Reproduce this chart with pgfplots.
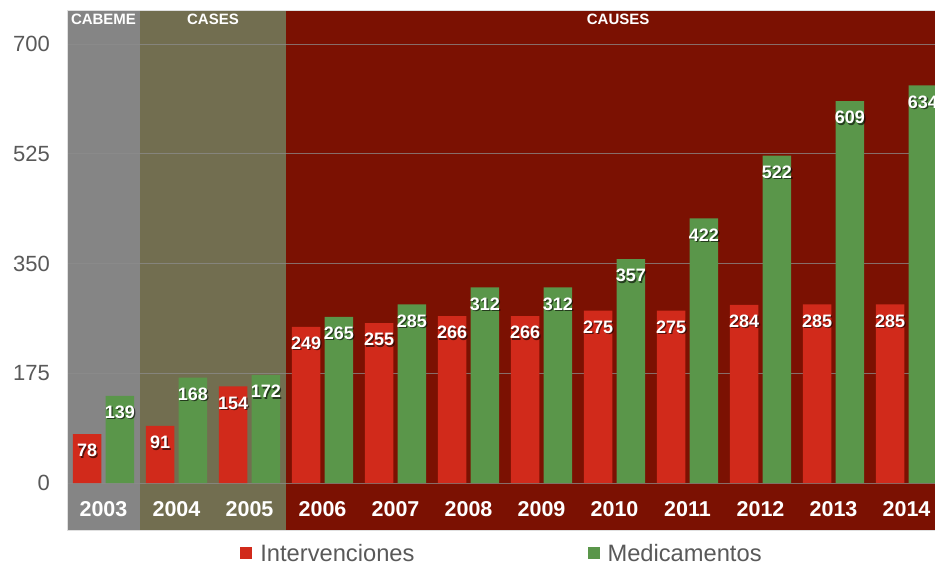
\documentclass[border=0pt]{standalone}
\usepackage{pgfplots}
\pgfplotsset{compat=1.18}
\usepackage{fontspec}
\setmainfont{Liberation Sans}
\definecolor{bandgray}{HTML}{858585}
\definecolor{bandolive}{HTML}{726E50}
\definecolor{bandred}{HTML}{7B1102}
\definecolor{barred}{HTML}{D12A1B}
\definecolor{bargreen}{HTML}{5A964A}
\definecolor{tickgray}{HTML}{595959}
\pgfplotsset{
  lbl/.style={ybar, bar width=0.39, bar shift=0, draw=none, fill=none, forget plot,
    nodes near coords, nodes near coords align={anchor=north},
    every node near coord/.append style={inner sep=0pt, font=\fontsize{18}{20}\selectfont\bfseries}},
  band/.style={draw=none, fill=#1, mark=none, forget plot, on layer=axis background},
  sq/.style={legend image code/.code={\fill[##1, draw=none] (0pt,-5pt) rectangle (12pt,7pt);}},
}
\begin{document}
\begin{tikzpicture}
\begin{axis}[
  set layers,
  at={(67pt,35pt)}, anchor=south west,
  scale only axis, width=868pt, height=520pt,
  xmin=-0.5, xmax=11.39, ymin=-74.9, ymax=754.2,
  xtick={0,1,2,3,4,5,6,7,8,9,10,11},
  xticklabels={2003,2004,2005,2006,2007,2008,2009,2010,2011,2012,2013,2014},
  ytick={0,175,350,525,700},
  ymajorgrids,
  grid style={draw=white!55!black, line width=0.8pt, opacity=0.75},
  major tick length=0pt,
  axis line style={draw=black!12},
  xticklabel style={anchor=center, yshift=21pt, inner sep=0pt,
    font=\fontsize{21.5}{24}\selectfont\bfseries, text=white},
  yticklabel style={anchor=east, xshift=-17pt, inner sep=0pt,
    font=\fontsize{22}{26}\selectfont, text=tickgray},
  /pgf/number format/assume math mode=true,
  legend style={at={(0.5,-0.046)}, anchor=center, draw=none, fill=none,
    inner sep=0pt, nodes={inner sep=0pt}, font=\fontsize{23.7}{27}\selectfont, text=tickgray,
    /tikz/every odd column/.append style={column sep=8pt},
    /tikz/every even column/.append style={column sep=173pt}},
  legend columns=2,
  legend cell align=left,
]
\addplot[band=bandgray] coordinates {(-0.5,-74.9) (0.5,-74.9) (0.5,754.2) (-0.5,754.2)} --cycle;
\addplot[band=bandolive] coordinates {(0.5,-74.9) (2.5,-74.9) (2.5,754.2) (0.5,754.2)} --cycle;
\addplot[band=bandred] coordinates {(2.5,-74.9) (11.39,-74.9) (11.39,754.2) (2.5,754.2)} --cycle;

\addlegendimage{sq, fill=barred}
\addlegendentry{Intervenciones}
\addlegendimage{sq, fill=bargreen}
\addlegendentry{Medicamentos}

\addplot[ybar, bar width=0.39, bar shift=-0.225, fill=barred, draw=none, forget plot]
  coordinates {(0,78) (1,91) (2,154) (3,249) (4,255) (5,266) (6,266) (7,275) (8,275) (9,284) (10,285) (11,285)};
\addplot[ybar, bar width=0.39, bar shift=0.225, fill=bargreen, draw=none, forget plot]
  coordinates {(0,139) (1,168) (2,172) (3,265) (4,285) (5,312) (6,312) (7,357) (8,422) (9,522) (10,609) (11,634)};

\addplot[lbl, every node near coord/.append style={text=black, opacity=0.6, xshift=1.3pt, yshift=-11.3pt}]
  coordinates {(-0.225,78) (0.775,91) (1.775,154) (2.775,249) (3.775,255) (4.775,266) (5.775,266) (6.775,275) (7.775,275) (8.775,284) (9.775,285) (10.775,285)};
\addplot[lbl, every node near coord/.append style={text=black, opacity=0.6, xshift=1.3pt, yshift=-11.3pt}]
  coordinates {(0.225,139) (1.225,168) (2.225,172) (3.225,265) (4.225,285) (5.225,312) (6.225,312) (7.225,357) (8.225,422) (9.225,522) (10.225,609) (11.225,634)};
\addplot[lbl, every node near coord/.append style={text=white, yshift=-10pt}]
  coordinates {(-0.225,78) (0.775,91) (1.775,154) (2.775,249) (3.775,255) (4.775,266) (5.775,266) (6.775,275) (7.775,275) (8.775,284) (9.775,285) (10.775,285)};
\addplot[lbl, every node near coord/.append style={text=white, yshift=-10pt}]
  coordinates {(0.225,139) (1.225,168) (2.225,172) (3.225,265) (4.225,285) (5.225,312) (6.225,312) (7.225,357) (8.225,422) (9.225,522) (10.225,609) (11.225,634)};

\node[text=white, font=\fontsize{15}{17}\selectfont\bfseries] at (axis cs:0,739.5) {CABEME};
\node[text=white, font=\fontsize{15}{17}\selectfont\bfseries] at (axis cs:1.5,739.5) {CASES};
\node[text=white, font=\fontsize{15}{17}\selectfont\bfseries] at (axis cs:7.05,739.5) {CAUSES};
\end{axis}
\pgfresetboundingbox
\path[use as bounding box] (0,0) rectangle (935pt,565pt);
\end{tikzpicture}
\end{document}
